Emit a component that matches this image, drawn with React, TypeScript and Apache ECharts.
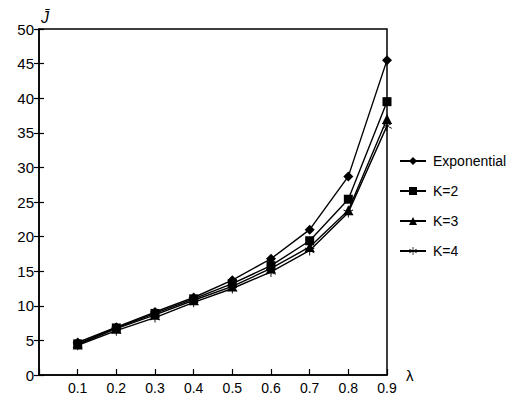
import React, { useEffect, useRef } from "react";
import * as echarts from "echarts";

const lambdas = [0.1, 0.2, 0.3, 0.4, 0.5, 0.6, 0.7, 0.8, 0.9];
const expo = [4.7, 6.9, 9.1, 11.2, 13.7, 16.8, 21.0, 28.7, 45.5];
const k2 = [4.5, 6.8, 8.9, 11.0, 13.2, 15.8, 19.4, 25.4, 39.5];
const k3 = [4.4, 6.7, 8.7, 10.8, 12.8, 15.4, 18.5, 23.8, 37.0];
const k4 = [4.3, 6.4, 8.3, 10.5, 12.5, 14.9, 18.0, 23.5, 36.0];
const seriesNames = ["Exponential", "K=2", "K=3", "K=4"];
const yTicks = { min: 0, max: 50, interval: 5 };

const FONT = "'Liberation Sans', Arial, sans-serif";
const starPath =
  "path://M4.6,0 L5.4,0 L5.4,4.1 L9,2 L9.4,2.7 L5.8,4.8 L9.4,6.9 L9,7.6 L5.4,5.5 L5.4,9.6 L4.6,9.6 L4.6,5.5 L1,7.6 L0.6,6.9 L4.2,4.8 L0.6,2.7 L1,2 L4.6,4.1 Z";

export default function App() {
  const ref = useRef<HTMLDivElement>(null);
  useEffect(() => {
    if (!ref.current) return;
    const chart = echarts.init(ref.current, undefined, { renderer: "svg" });
    const mk = (name: string, data: number[], symbol: string, size: number) => ({
      name,
      type: "line",
      data: lambdas.map((x, i) => [x, data[i]]),
      symbol,
      symbolSize: size,
      lineStyle: { color: "#000", width: 1.4 },
      itemStyle: { color: "#000" },
      xAxisIndex: 0,
      yAxisIndex: 0,
    });
    chart.setOption({
      animation: false,
      backgroundColor: "#fff",
      textStyle: { fontFamily: FONT },
      grid: {
        left: 39,
        top: 29,
        right: 142,
        bottom: 25,
        show: true,
        borderColor: "#000",
        borderWidth: 1.5,
        containLabel: false,
      },
      legend: {
        orient: "vertical",
        left: 394,
        top: 149,
        itemWidth: 26,
        itemHeight: 10,
        itemGap: 16,
        data: seriesNames,
        textStyle: { fontFamily: FONT, fontSize: 14, color: "#000", padding: [0, 0, 0, 2] },
      },
      xAxis: {
        type: "value",
        min: 0,
        max: 0.9,
        interval: 0.1,
        name: "λ",
        nameLocation: "end",
        nameGap: 19,
        nameTextStyle: { fontFamily: FONT, fontSize: 15, color: "#000", verticalAlign: "middle" },
        axisLine: { lineStyle: { color: "#000", width: 1.5 } },
        axisTick: { inside: true, length: 6, lineStyle: { color: "#000", width: 1.2 } },
        axisLabel: {
          fontFamily: FONT,
          fontSize: 14,
          color: "#000",
          margin: 6,
          formatter: (v: number) => (v === 0 ? "" : v.toFixed(1)),
        },
        splitLine: { show: false },
      },
      yAxis: [
        {
          type: "value",
          min: yTicks.min,
          max: yTicks.max,
          interval: yTicks.interval,
          name: "J\u0304",
          nameGap: 4,
          nameTextStyle: {
            fontFamily: FONT,
            fontSize: 16,
            fontStyle: "italic",
            color: "#000",
            align: "left",
            padding: [0, 0, 0, 2],
          },
          axisLine: { lineStyle: { color: "#000", width: 1.5 } },
          axisTick: { length: 5, lineStyle: { color: "#000", width: 1.2 } },
          axisLabel: { fontFamily: FONT, fontSize: 15, color: "#000", margin: 5 },
          splitLine: { show: false },
        },
        {
          type: "value",
          position: "left",
          min: yTicks.min,
          max: yTicks.max,
          interval: yTicks.interval,
          axisLine: { show: false },
          axisTick: { inside: true, length: 5, lineStyle: { color: "#000", width: 1.2 } },
          axisLabel: { show: false },
          splitLine: { show: false },
        },
      ],
      series: [
        mk(seriesNames[0], expo, "diamond", 10),
        mk(seriesNames[1], k2, "rect", 9),
        mk(seriesNames[2], k3, "triangle", 10),
        mk(seriesNames[3], k4, starPath, 10),
      ],
    });
    return () => chart.dispose();
  }, []);
  return <div ref={ref} style={{ width: 529, height: 400, position: "absolute", left: 0, top: 0 }} />;
}
